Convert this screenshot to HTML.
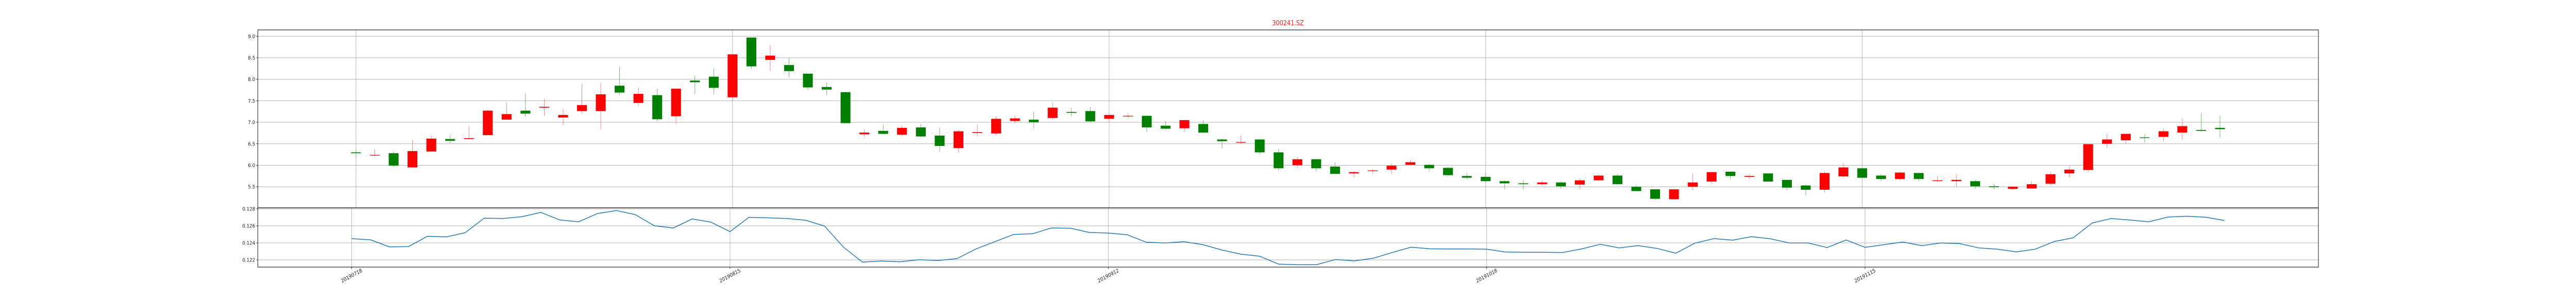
<!DOCTYPE html>
<html><head><meta charset="utf-8"><title>300241.SZ</title>
<style>html,body{margin:0;padding:0;background:#fff;overflow:hidden;width:100%;height:100%;}svg{display:block;width:100vw;height:100vh;font-family:"DejaVu Sans","Liberation Sans",sans-serif;}</style>
</head><body>
<svg id="chart" width="5760" height="576" viewBox="0 0 5760 576" preserveAspectRatio="none" xmlns="http://www.w3.org/2000/svg">
<text x="2880" y="49" text-anchor="middle" font-size="13" fill="#ff1a1a">300241.SZ</text>
<g id="g"></g>
</svg>
<script>
const tickIdx = [0, 20, 40, 60, 80];
const tickLabels = ["20190718", "20190815", "20190912", "20191018", "20191115"];
const priceTicks = [9.0, 8.5, 8.0, 7.5, 7.0, 6.5, 6.0, 5.5];
const rateTicks = [0.128, 0.126, 0.124, 0.122];
const opens = [6.30,6.23,6.28,5.95,6.32,6.61,6.61,6.70,7.06,7.27,7.34,7.11,7.26,7.26,7.85,7.45,7.63,7.14,7.97,8.06,7.58,8.97,8.45,8.33,8.13,7.82,7.70,6.72,6.80,6.71,6.88,6.69,6.40,6.75,6.74,7.03,7.06,7.10,7.24,7.26,7.08,7.14,7.15,6.92,6.86,6.96,6.60,6.53,6.60,6.30,6.00,6.14,5.97,5.81,5.87,5.90,6.01,6.01,5.94,5.75,5.73,5.63,5.58,5.56,5.60,5.55,5.65,5.76,5.50,5.44,5.21,5.50,5.62,5.85,5.73,5.81,5.66,5.53,5.43,5.74,5.93,5.76,5.68,5.82,5.64,5.63,5.63,5.51,5.45,5.46,5.57,5.81,5.89,6.50,6.58,6.65,6.66,6.76,6.82,6.87];
const closes = [6.28,6.24,5.99,6.33,6.62,6.57,6.63,7.27,7.19,7.20,7.36,7.17,7.40,7.65,7.69,7.66,7.07,7.78,7.93,7.80,8.58,8.30,8.55,8.19,7.81,7.76,6.98,6.76,6.73,6.87,6.67,6.45,6.79,6.77,7.08,7.09,7.00,7.34,7.22,7.02,7.17,7.15,6.88,6.85,7.05,6.76,6.56,6.54,6.30,5.93,6.14,5.93,5.80,5.84,5.88,5.99,6.07,5.93,5.77,5.71,5.63,5.58,5.56,5.60,5.51,5.65,5.76,5.56,5.40,5.22,5.44,5.60,5.84,5.75,5.75,5.62,5.48,5.43,5.82,5.95,5.71,5.68,5.83,5.68,5.65,5.66,5.51,5.49,5.50,5.56,5.79,5.90,6.49,6.60,6.73,6.64,6.79,6.91,6.80,6.84];
const highs = [6.38,6.37,6.32,6.59,6.69,6.70,6.91,7.29,7.46,7.68,7.55,7.31,7.89,7.91,8.29,7.81,7.78,7.78,8.08,8.25,8.58,8.97,8.80,8.49,8.13,7.93,7.71,6.84,6.94,6.93,6.97,6.88,6.82,6.94,7.14,7.16,7.24,7.46,7.33,7.36,7.21,7.21,7.15,7.03,7.05,7.04,6.63,6.69,6.61,6.38,6.20,6.15,6.07,5.87,5.91,6.04,6.12,6.03,5.96,5.82,5.82,5.65,5.65,5.65,5.63,5.70,5.78,5.79,5.54,5.45,5.45,5.81,5.85,5.85,5.79,5.81,5.66,5.54,5.85,6.05,5.93,5.79,5.85,5.83,5.75,5.78,5.67,5.57,5.53,5.63,5.85,5.97,6.49,6.73,6.73,6.72,6.85,7.09,7.22,7.15];
const lows = [6.17,6.20,5.95,5.94,6.32,6.51,6.61,6.70,7.06,7.13,7.15,6.94,7.20,6.83,7.63,7.38,7.02,6.96,7.65,7.65,7.48,8.24,8.19,8.05,7.75,7.63,6.98,6.66,6.71,6.67,6.65,6.31,6.29,6.67,6.70,6.97,6.85,7.06,7.14,7.01,7.01,7.09,6.77,6.83,6.78,6.76,6.39,6.50,6.25,5.88,5.93,5.86,5.80,5.71,5.80,5.80,5.99,5.86,5.74,5.68,5.59,5.44,5.44,5.52,5.45,5.45,5.63,5.55,5.40,5.20,5.20,5.42,5.57,5.68,5.68,5.62,5.42,5.30,5.37,5.70,5.71,5.63,5.64,5.63,5.61,5.51,5.44,5.44,5.42,5.46,5.53,5.71,5.83,6.41,6.50,6.53,6.55,6.59,6.79,6.64];
const rates = [0.12449,0.12436,0.12352,0.12356,0.12477,0.1247,0.12519,0.1269,0.12686,0.12707,0.12758,0.12669,0.12648,0.12745,0.1278,0.12731,0.12601,0.12574,0.12682,0.12643,0.12532,0.127,0.12694,0.12686,0.12666,0.12597,0.12349,0.12174,0.12186,0.12178,0.12202,0.12192,0.12215,0.12328,0.12414,0.12499,0.12507,0.12576,0.12572,0.12522,0.12515,0.12495,0.12408,0.12398,0.12414,0.12379,0.12316,0.12267,0.12243,0.1215,0.12143,0.12143,0.12204,0.12188,0.12219,0.12286,0.12349,0.1233,0.12328,0.12328,0.12326,0.12292,0.1229,0.1229,0.12286,0.12328,0.12383,0.12341,0.12367,0.12335,0.12278,0.12396,0.1245,0.12432,0.12473,0.12448,0.12398,0.12398,0.12345,0.12434,0.12347,0.12379,0.1241,0.12367,0.12398,0.12391,0.12341,0.12326,0.12294,0.12326,0.12416,0.12459,0.12633,0.12686,0.12668,0.12648,0.12703,0.12713,0.12701,0.12663];

const NS = "http://www.w3.org/2000/svg";
const g = document.getElementById("g");
const L = 576.5, R = 5184, T1 = 58, B1 = 403, B2 = 518;
const xU = i => 796 + 42.1 * i;
const xL = i => 786.3 + 42.3 * i;
const yP = p => 70.3 + (9 - p) * 83.4;
const yR = v => 405 + (0.128 - v) * 16500;
function mk(tag, attrs, parent) {
  const e = document.createElementNS(NS, tag);
  for (const k in attrs) e.setAttribute(k, attrs[k]);
  (parent || g).appendChild(e);
  return e;
}
priceTicks.forEach(p => {
  const y = yP(p);
  const gl = mk("line", {x1: L, x2: R, y1: y, y2: y, stroke: "#b0b0b0", "stroke-width": 1});
  
  
  const tk = mk("line", {x1: L - 3.5, x2: L, y1: y, y2: y, stroke: "#222", "stroke-width": 1});
  
  
  const t = mk("text", {x: L - 6, y: y + 3.5, "text-anchor": "end", "font-size": 10, fill: "#222"});
  t.textContent = p.toFixed(1);
  
  
});
rateTicks.forEach(v => {
  const y = yR(v);
  const gl = mk("line", {x1: L, x2: R, y1: y, y2: y, stroke: "#b0b0b0", "stroke-width": 1});
  
  
  const tk = mk("line", {x1: L - 3.5, x2: L, y1: y, y2: y, stroke: "#222", "stroke-width": 1});
  
  
  const t = mk("text", {x: L - 6, y: y + 3.5, "text-anchor": "end", "font-size": 10, fill: "#222"});
  t.textContent = v.toFixed(3);
  
  
});
tickIdx.forEach((idx, k) => {
  const xu = xU(idx), xl = xL(idx);
  const v1 = mk("line", {x1: xu, x2: xu, y1: T1, y2: B1, stroke: "#b0b0b0", "stroke-width": 1});
  
  
  const v2 = mk("line", {x1: xl, x2: xl, y1: B1, y2: B2, stroke: "#b0b0b0", "stroke-width": 1});
  
  
  const tk = mk("line", {x1: xl, x2: xl, y1: B2, y2: B2 + 3.5, stroke: "#222", "stroke-width": 1});
  
  
  const t = mk("text", {x: xl, y: B2 + 20, "text-anchor": "middle", "font-size": 10, fill: "#222", transform: "rotate(-25 " + xl + " " + (B2 + 17) + ")"});
  t.textContent = tickLabels[k];
  
  
});
opens.forEach((o, i) => {
  const c = closes[i], up = c > o;
  const x = xU(i);
  const wick = mk("line", {x1: x, x2: x, y1: yP(highs[i]), y2: yP(lows[i]), stroke: up ? "#ff7070" : "#60b060", "stroke-width": 1});
  
  
  const yt = yP(Math.max(o, c)), yb = yP(Math.min(o, c));
  const body = mk("rect", {x: x - 11, y: yt, width: 22, height: Math.max(yb - yt, 1.3), fill: up ? "#ff0000" : "#008000"});
  
  
});
const pts = rates.map((v, i) => xL(i).toFixed(1) + "," + yR(v).toFixed(1)).join(" ");
const pl = mk("polyline", {points: pts, fill: "none", stroke: "#1f77b4", "stroke-width": 1.5, "stroke-linejoin": "round"});


const s1 = mk("rect", {x: L, y: T1, width: R - L, height: B1 - T1, fill: "none", stroke: "#222", "stroke-width": 1.2});


const s2 = mk("rect", {x: L, y: B1, width: R - L, height: B2 - B1, fill: "none", stroke: "#222", "stroke-width": 1.2});


</script>
</body></html>
